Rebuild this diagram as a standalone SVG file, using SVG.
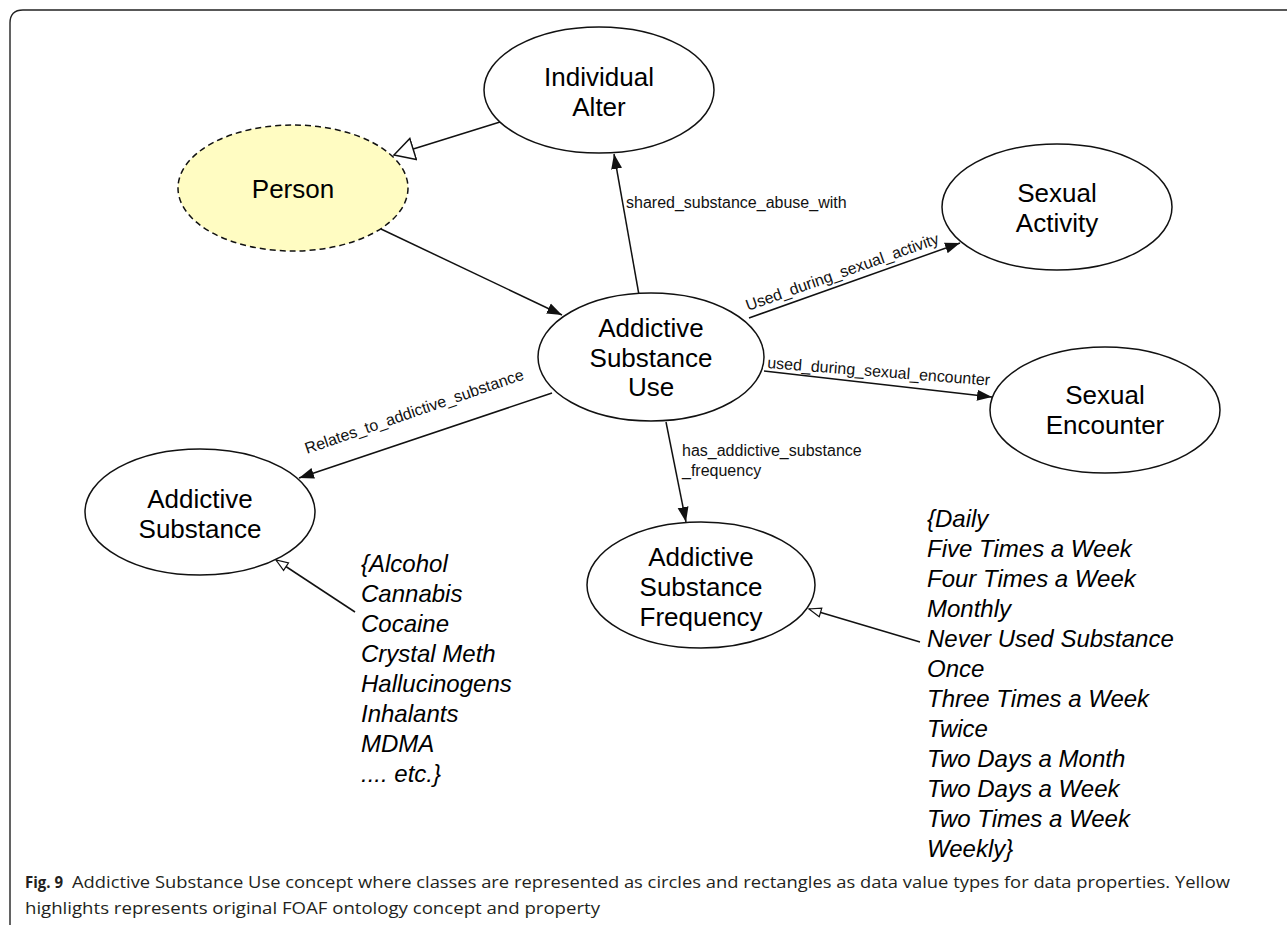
<svg xmlns="http://www.w3.org/2000/svg" width="1287" height="925" viewBox="0 0 1287 925">
<style>
.node ellipse{fill:#fff;stroke:#111;stroke-width:1.5}
.lbl{font-family:"Liberation Sans",Arial,sans-serif;font-size:26px;fill:#000;text-anchor:middle}
.edge{stroke:#111;stroke-width:1.5;fill:none}
.el{font-family:"Liberation Sans",Arial,sans-serif;font-size:16px;fill:#111}
.lst{font-family:"Liberation Sans",Arial,sans-serif;font-size:24px;font-style:italic;fill:#000}
.cap{font-family:"Open Sans","Noto Sans",sans-serif;font-size:16px;fill:#231f20}
</style>
<defs>
<marker id="arr" markerUnits="userSpaceOnUse" markerWidth="16" markerHeight="12" refX="15" refY="6" orient="auto"><path d="M0,0.5 L15,6 L0,11.5 z" fill="#111"/></marker>
<marker id="hb" markerUnits="userSpaceOnUse" markerWidth="23" markerHeight="25" refX="21" refY="12" orient="auto"><path d="M1,1 L21,12 L1,23 z" fill="#fff" stroke="#111" stroke-width="1.5"/></marker>
<marker id="hs" markerUnits="userSpaceOnUse" markerWidth="14" markerHeight="12" refX="13" refY="6" orient="auto"><path d="M1,1.5 L13,6 L1,10.5 z" fill="#fff" stroke="#111" stroke-width="1.2"/></marker>
</defs>
<rect width="1287" height="925" fill="#fff"/>
<path d="M10,925 V23 Q10,10 23,10 H1287" fill="none" stroke="#222" stroke-width="1.4"/>

<g id="connectors">
<line class="edge" x1="500" y1="122" x2="394" y2="155" marker-end="url(#hb)"/>
<line class="edge" x1="381" y1="229" x2="562" y2="315" marker-end="url(#arr)"/>
<line class="edge" x1="639" y1="295" x2="614" y2="154" marker-end="url(#arr)"/>
<line class="edge" x1="749" y1="318" x2="960" y2="243" marker-end="url(#arr)"/>
<line class="edge" x1="764" y1="371" x2="992" y2="397" marker-end="url(#arr)"/>
<line class="edge" x1="552" y1="393" x2="299" y2="478" marker-end="url(#arr)"/>
<line class="edge" x1="666" y1="422" x2="686" y2="522" marker-end="url(#arr)"/>
<line class="edge" x1="355" y1="612" x2="276" y2="560" marker-end="url(#hs)"/>
<line class="edge" x1="920" y1="642" x2="809" y2="609" marker-end="url(#hs)"/>
<text class="el" x="626" y="208">shared_substance_abuse_with</text>
<text class="el" x="748" y="311" transform="rotate(-19.5 748 311)">Used_during_sexual_activity</text>
<text class="el" x="767" y="368" transform="rotate(4.5 767 368)">used_during_sexual_encounter</text>
<text class="el" x="307" y="454" transform="rotate(-19 307 454)">Relates_to_addictive_substance</text>
<text class="el" x="682" y="456">has_addictive_substance</text>
<text class="el" x="682" y="476">_frequency</text>
</g>

<g id="individual-alter" class="node">
<ellipse cx="599" cy="90" rx="115" ry="63"/>
<text class="lbl" x="599" y="86">Individual</text>
<text class="lbl" x="599" y="116">Alter</text>
</g>
<g id="person" class="node">
<ellipse cx="293" cy="188" rx="115" ry="63" style="fill:#fffcc2;stroke-dasharray:6 4"/>
<text class="lbl" x="293" y="198">Person</text>
</g>
<g id="sexual-activity" class="node">
<ellipse cx="1057" cy="207" rx="115" ry="63"/>
<text class="lbl" x="1057" y="202">Sexual</text>
<text class="lbl" x="1057" y="232">Activity</text>
</g>
<g id="addictive-substance-use" class="node">
<ellipse cx="651" cy="357" rx="113" ry="64"/>
<text class="lbl" x="651" y="337">Addictive</text>
<text class="lbl" x="651" y="367">Substance</text>
<text class="lbl" x="651" y="396">Use</text>
</g>
<g id="sexual-encounter" class="node">
<ellipse cx="1105" cy="410" rx="115" ry="63"/>
<text class="lbl" x="1105" y="404">Sexual</text>
<text class="lbl" x="1105" y="434">Encounter</text>
</g>
<g id="addictive-substance" class="node">
<ellipse cx="200" cy="512" rx="115" ry="63"/>
<text class="lbl" x="200" y="508">Addictive</text>
<text class="lbl" x="200" y="538">Substance</text>
</g>
<g id="addictive-substance-frequency" class="node">
<ellipse cx="701" cy="585" rx="114" ry="63"/>
<text class="lbl" x="701" y="566">Addictive</text>
<text class="lbl" x="701" y="596">Substance</text>
<text class="lbl" x="701" y="626">Frequency</text>
</g>

<g id="substance-values">
<text class="lst" x="361" y="572">{Alcohol</text>
<text class="lst" x="361" y="602">Cannabis</text>
<text class="lst" x="361" y="632">Cocaine</text>
<text class="lst" x="361" y="662">Crystal Meth</text>
<text class="lst" x="361" y="692">Hallucinogens</text>
<text class="lst" x="361" y="722">Inhalants</text>
<text class="lst" x="361" y="752">MDMA</text>
<text class="lst" x="361" y="782">.... etc.}</text>
</g>
<g id="frequency-values">
<text class="lst" x="927" y="527">{Daily</text>
<text class="lst" x="927" y="557">Five Times a Week</text>
<text class="lst" x="927" y="587">Four Times a Week</text>
<text class="lst" x="927" y="617">Monthly</text>
<text class="lst" x="927" y="647">Never Used Substance</text>
<text class="lst" x="927" y="677">Once</text>
<text class="lst" x="927" y="707">Three Times a Week</text>
<text class="lst" x="927" y="737">Twice</text>
<text class="lst" x="927" y="767">Two Days a Month</text>
<text class="lst" x="927" y="797">Two Days a Week</text>
<text class="lst" x="927" y="827">Two Times a Week</text>
<text class="lst" x="927" y="857">Weekly}</text>
</g>

<g id="caption">
<text class="cap" x="25" y="888" textLength="38" lengthAdjust="spacingAndGlyphs" style="font-weight:bold">Fig. 9</text>
<text class="cap" x="72" y="888" textLength="1158" lengthAdjust="spacingAndGlyphs">Addictive Substance Use concept where classes are represented as circles and rectangles as data value types for data properties. Yellow</text>
<text class="cap" x="25" y="914" textLength="575" lengthAdjust="spacingAndGlyphs">highlights represents original FOAF ontology concept and property</text>
</g>
</svg>
